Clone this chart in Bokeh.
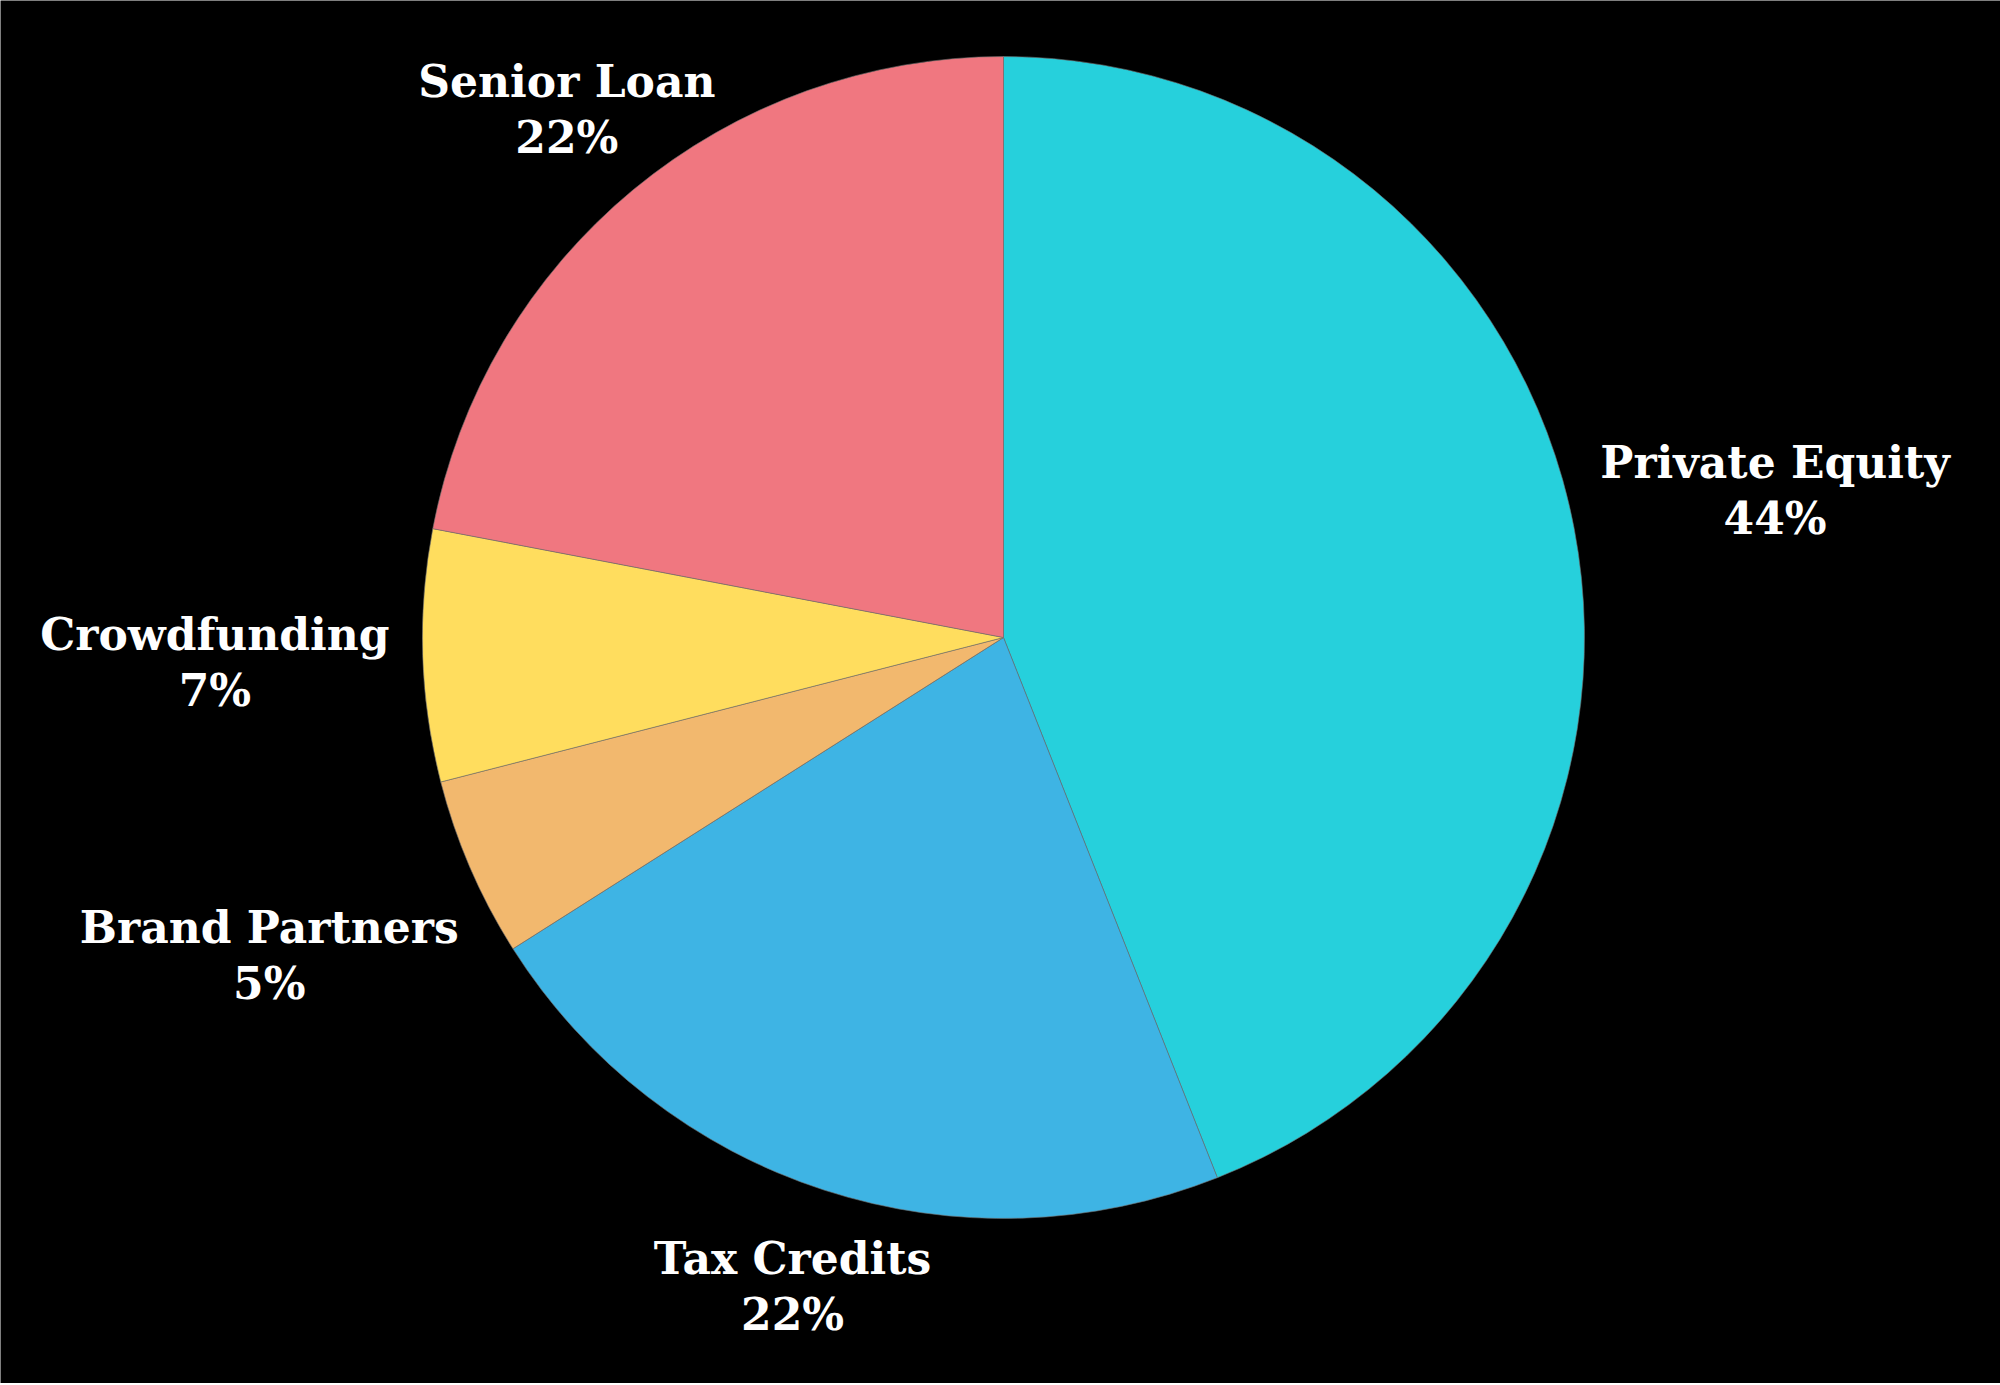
import math
from bokeh.plotting import figure
from bokeh.models import ColumnDataSource, Range1d
from bokeh.core.properties import value
from bokeh.embed import file_html
from bokeh.resources import INLINE

categories = ["Private Equity", "Tax Credits", "Brand Partners", "Crowdfunding", "Senior Loan"]
shares = [44, 22, 5, 7, 22]
colors = ["#26D0DC", "#3EB4E4", "#F2B86E", "#FFDD5E", "#F07780"]
# label distance from centre, as multiple of radius
label_radius = [1.352, 1.175, 1.377, 1.358, 1.179]

W, H = 2000, 1383
CX, CY, R = 1003, H - 637, 581

total = float(sum(shares))
starts, ends, lx, ly, pct = [], [], [], [], []
cum = 0.0
for s, lr in zip(shares, label_radius):
    a0 = math.pi / 2 - 2 * math.pi * cum / total
    cum += s
    a1 = math.pi / 2 - 2 * math.pi * cum / total
    starts.append(a0)
    ends.append(a1)
    mid = (a0 + a1) / 2
    lx.append(CX + lr * R * math.cos(mid))
    ly.append(CY + lr * R * math.sin(mid))
    pct.append(f"{round(100 * s / total)}%")

src = ColumnDataSource(dict(cat=categories, start=starts, end=ends, color=colors,
                            lx=lx, ly=ly, pct=pct))

p = figure(width=W, height=H, output_backend="svg", toolbar_location=None,
           x_range=Range1d(0, W), y_range=Range1d(0, H), min_border=0)
p.axis.visible = False
p.grid.visible = False
p.outline_line_color = None
p.background_fill_color = "black"
p.border_fill_color = "black"

p.wedge(x=CX, y=CY, radius=R, start_angle="start", end_angle="end", direction="clock",
        fill_color="color", line_color="#707070", line_alpha=0.6, line_width=1, source=src)

font = value("DejaVu Serif")
p.text(x="lx", y="ly", text="cat", source=src, text_font=font, text_font_style="bold",
       text_font_size="44px", text_color="white", text_align="center",
       text_baseline="middle", y_offset=-28)
p.text(x="lx", y="ly", text="pct", source=src, text_font=font, text_font_style="bold",
       text_font_size="44px", text_color="white", text_align="center",
       text_baseline="middle", y_offset=28)

html = file_html(p, INLINE)
html = html.replace("<body>", '<body style="background:#000000;">', 1)
open("out.html", "w").write(html)
